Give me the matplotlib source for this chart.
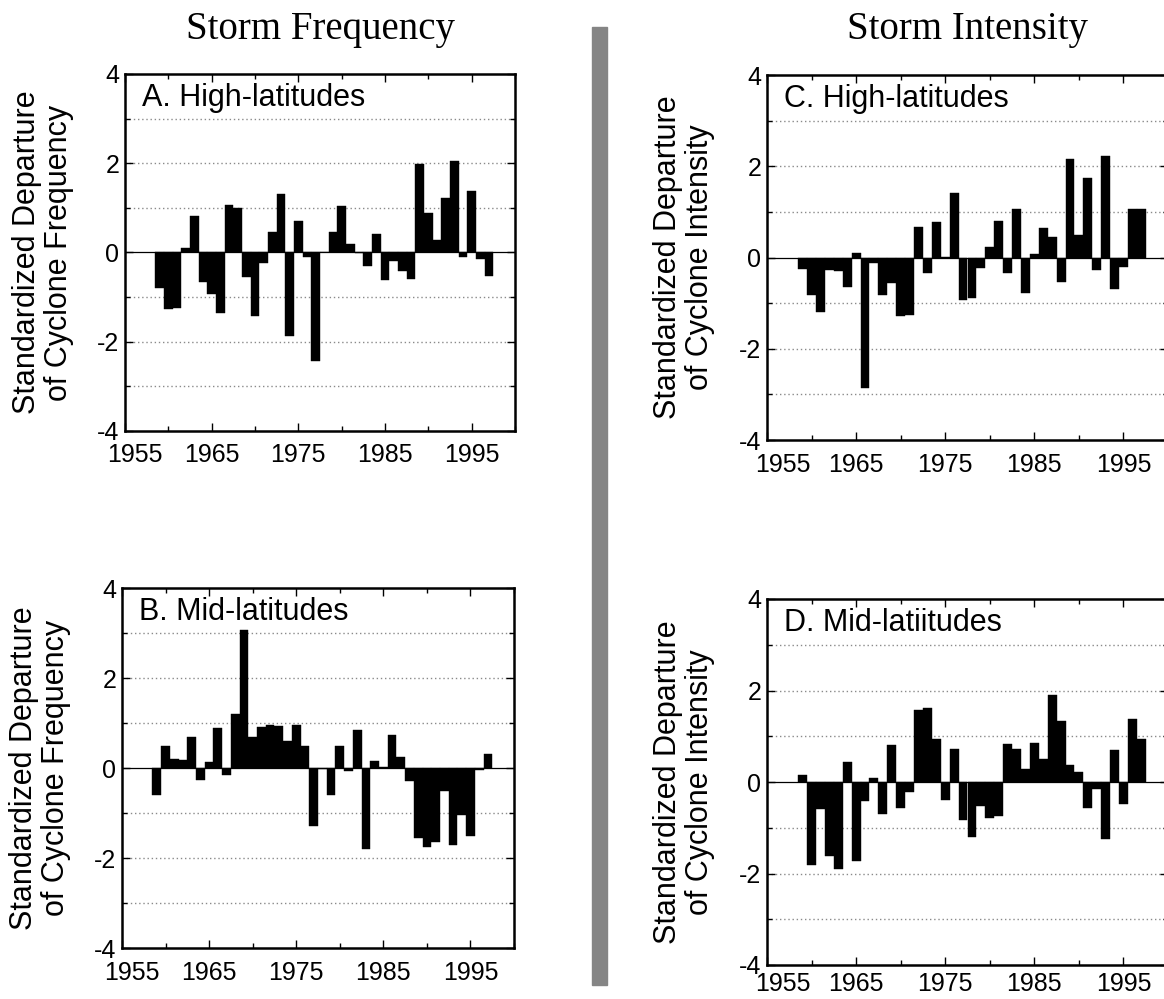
import matplotlib
matplotlib.use("Agg")
import matplotlib.pyplot as plt
import matplotlib.transforms as mtransforms
from matplotlib.patches import Rectangle
from matplotlib.ticker import MultipleLocator

W, H = 1164, 999

years = list(range(1959, 1998))

# A. storm frequency, high latitudes
freq_high = [-0.80, -1.27, -1.25, 0.11, 0.81, -0.66, -0.93, -1.36, 1.07, 0.99,
             -0.55, -1.42, -0.24, 0.46, 1.31, -1.88, 0.71, -0.10, -2.44, 0.02,
             0.45, 1.05, 0.19, -0.02, -0.30, 0.42, -0.61, -0.20, -0.41, -0.59,
             1.98, 0.88, 0.27, 1.23, 2.06, -0.11, 1.38, -0.15, -0.52]

# B. storm frequency, mid latitudes
freq_mid = [-0.59, 0.48, 0.21, 0.18, 0.70, -0.26, 0.13, 0.89, -0.15, 1.20,
            3.06, 0.70, 0.91, 0.96, 0.93, 0.61, 0.96, 0.48, -1.28, -0.03,
            -0.61, 0.48, -0.07, 0.85, -1.81, 0.15, 0.02, 0.74, 0.24, -0.28,
            -1.55, -1.76, -1.64, -0.50, -1.72, -1.04, -1.52, -0.05, 0.32]

# C. storm intensity, high latitudes
int_high = [-0.25, -0.83, -1.20, -0.27, -0.29, -0.64, 0.09, -2.85, -0.12, -0.83,
            -0.56, -1.29, -1.26, 0.66, -0.34, 0.77, 0.02, 1.42, -0.93, -0.89,
            -0.23, 0.24, 0.81, -0.33, 1.07, -0.77, 0.08, 0.64, 0.44, -0.53,
            2.15, 0.50, 1.75, -0.27, 2.23, -0.69, -0.21, 1.07, 1.07]

# D. storm intensity, mid latitudes
int_mid = [0.15, -1.81, -0.59, -1.62, -1.91, 0.43, -1.73, -0.41, 0.08, -0.71,
           0.80, -0.56, -0.21, 1.57, 1.61, 0.94, -0.40, 0.72, -0.83, -1.21,
           -0.52, -0.79, -0.75, 0.84, 0.72, 0.28, 0.86, 0.51, 1.91, 1.33,
           0.38, 0.22, -0.56, -0.16, -1.25, 0.69, -0.47, 1.38, 0.93]

panel_labels = ["A. High-latitudes", "B. Mid-latitudes",
                "C. High-latitudes", "D. Mid-latiitudes"]
freq_ylabel = "Standardized Departure\nof Cyclone Frequency"
int_ylabel = "Standardized Departure\nof Cyclone Intensity"
year_ticks = [1955, 1965, 1975, 1985, 1995]

plt.rcParams['font.family'] = ['Liberation Sans', 'DejaVu Sans']
plt.rcParams['axes.unicode_minus'] = False


def px_axes(fig, left, top, right, bottom):
    return fig.add_axes([left / W, 1 - bottom / H, (right - left) / W, (bottom - top) / H])


def draw_panel(fig, ax, vals, label, ylabel, first_dx, xpad=9):
    ax.bar(years, vals, width=1.0, color='black', edgecolor='black', linewidth=0.3, zorder=3)
    ax.axhline(0, color='black', lw=0.9, zorder=2)
    for g in [-3, -2, -1, 1, 2, 3]:
        ax.axhline(g, color='#8a8a8a', lw=1.0, ls=(0, (1, 2)), zorder=1)
    ax.set_xlim(1955, 2000)
    ax.set_ylim(-4, 4)
    ax.set_xticks(year_ticks)
    ax.set_xticklabels([str(y) for y in year_ticks])
    ax.xaxis.set_minor_locator(MultipleLocator(5))
    ax.yaxis.set_major_locator(MultipleLocator(2))
    ax.yaxis.set_minor_locator(MultipleLocator(1))
    ax.tick_params(which='both', direction='in', top=True, right=True, width=1.0)
    ax.tick_params(which='major', length=6)
    ax.tick_params(which='minor', length=3.5)
    ax.tick_params(axis='x', labelsize=18, pad=xpad)
    ax.tick_params(axis='y', labelsize=18, pad=4)
    for s in ax.spines.values():
        s.set_linewidth(1.8)
    ax.text(0.043, 0.975, label, transform=ax.transAxes, ha='left', va='top', fontsize=22)
    ax.set_ylabel(ylabel, fontsize=22, linespacing=1.1)
    ax.yaxis.set_label_coords(-0.13, 0.5)
    # first year label sits a little to the right in the original
    lbl = ax.get_xticklabels()[0]
    lbl.set_transform(lbl.get_transform() +
                      mtransforms.ScaledTranslation(first_dx / 100, 0, fig.dpi_scale_trans))


fig = plt.figure(figsize=(W / 100, H / 100), dpi=100)

ax_a = px_axes(fig, 125, 74, 515, 431)
ax_b = px_axes(fig, 122, 588, 514, 948)
ax_c = px_axes(fig, 767, 75, 1168, 440)
ax_d = px_axes(fig, 767, 599, 1168, 965)

draw_panel(fig, ax_a, freq_high, panel_labels[0], freq_ylabel, 10)
draw_panel(fig, ax_b, freq_mid, panel_labels[1], freq_ylabel, 10)
draw_panel(fig, ax_c, int_high, panel_labels[2], int_ylabel, 16)
draw_panel(fig, ax_d, int_mid, panel_labels[3], int_ylabel, 16, xpad=5)

fig.text(320 / W, 1 - 30 / H, "Storm Frequency", ha='center', va='center',
         family='Liberation Serif', fontsize=28)
fig.text(967 / W, 1 - 30 / H, "Storm Intensity", ha='center', va='center',
         family='Liberation Serif', fontsize=28)

fig.add_artist(Rectangle((592 / W, 1 - 985 / H), 15 / W, (985 - 27) / H,
                         transform=fig.transFigure, color='#858585', zorder=0))

fig.savefig("out.png", dpi=100)
